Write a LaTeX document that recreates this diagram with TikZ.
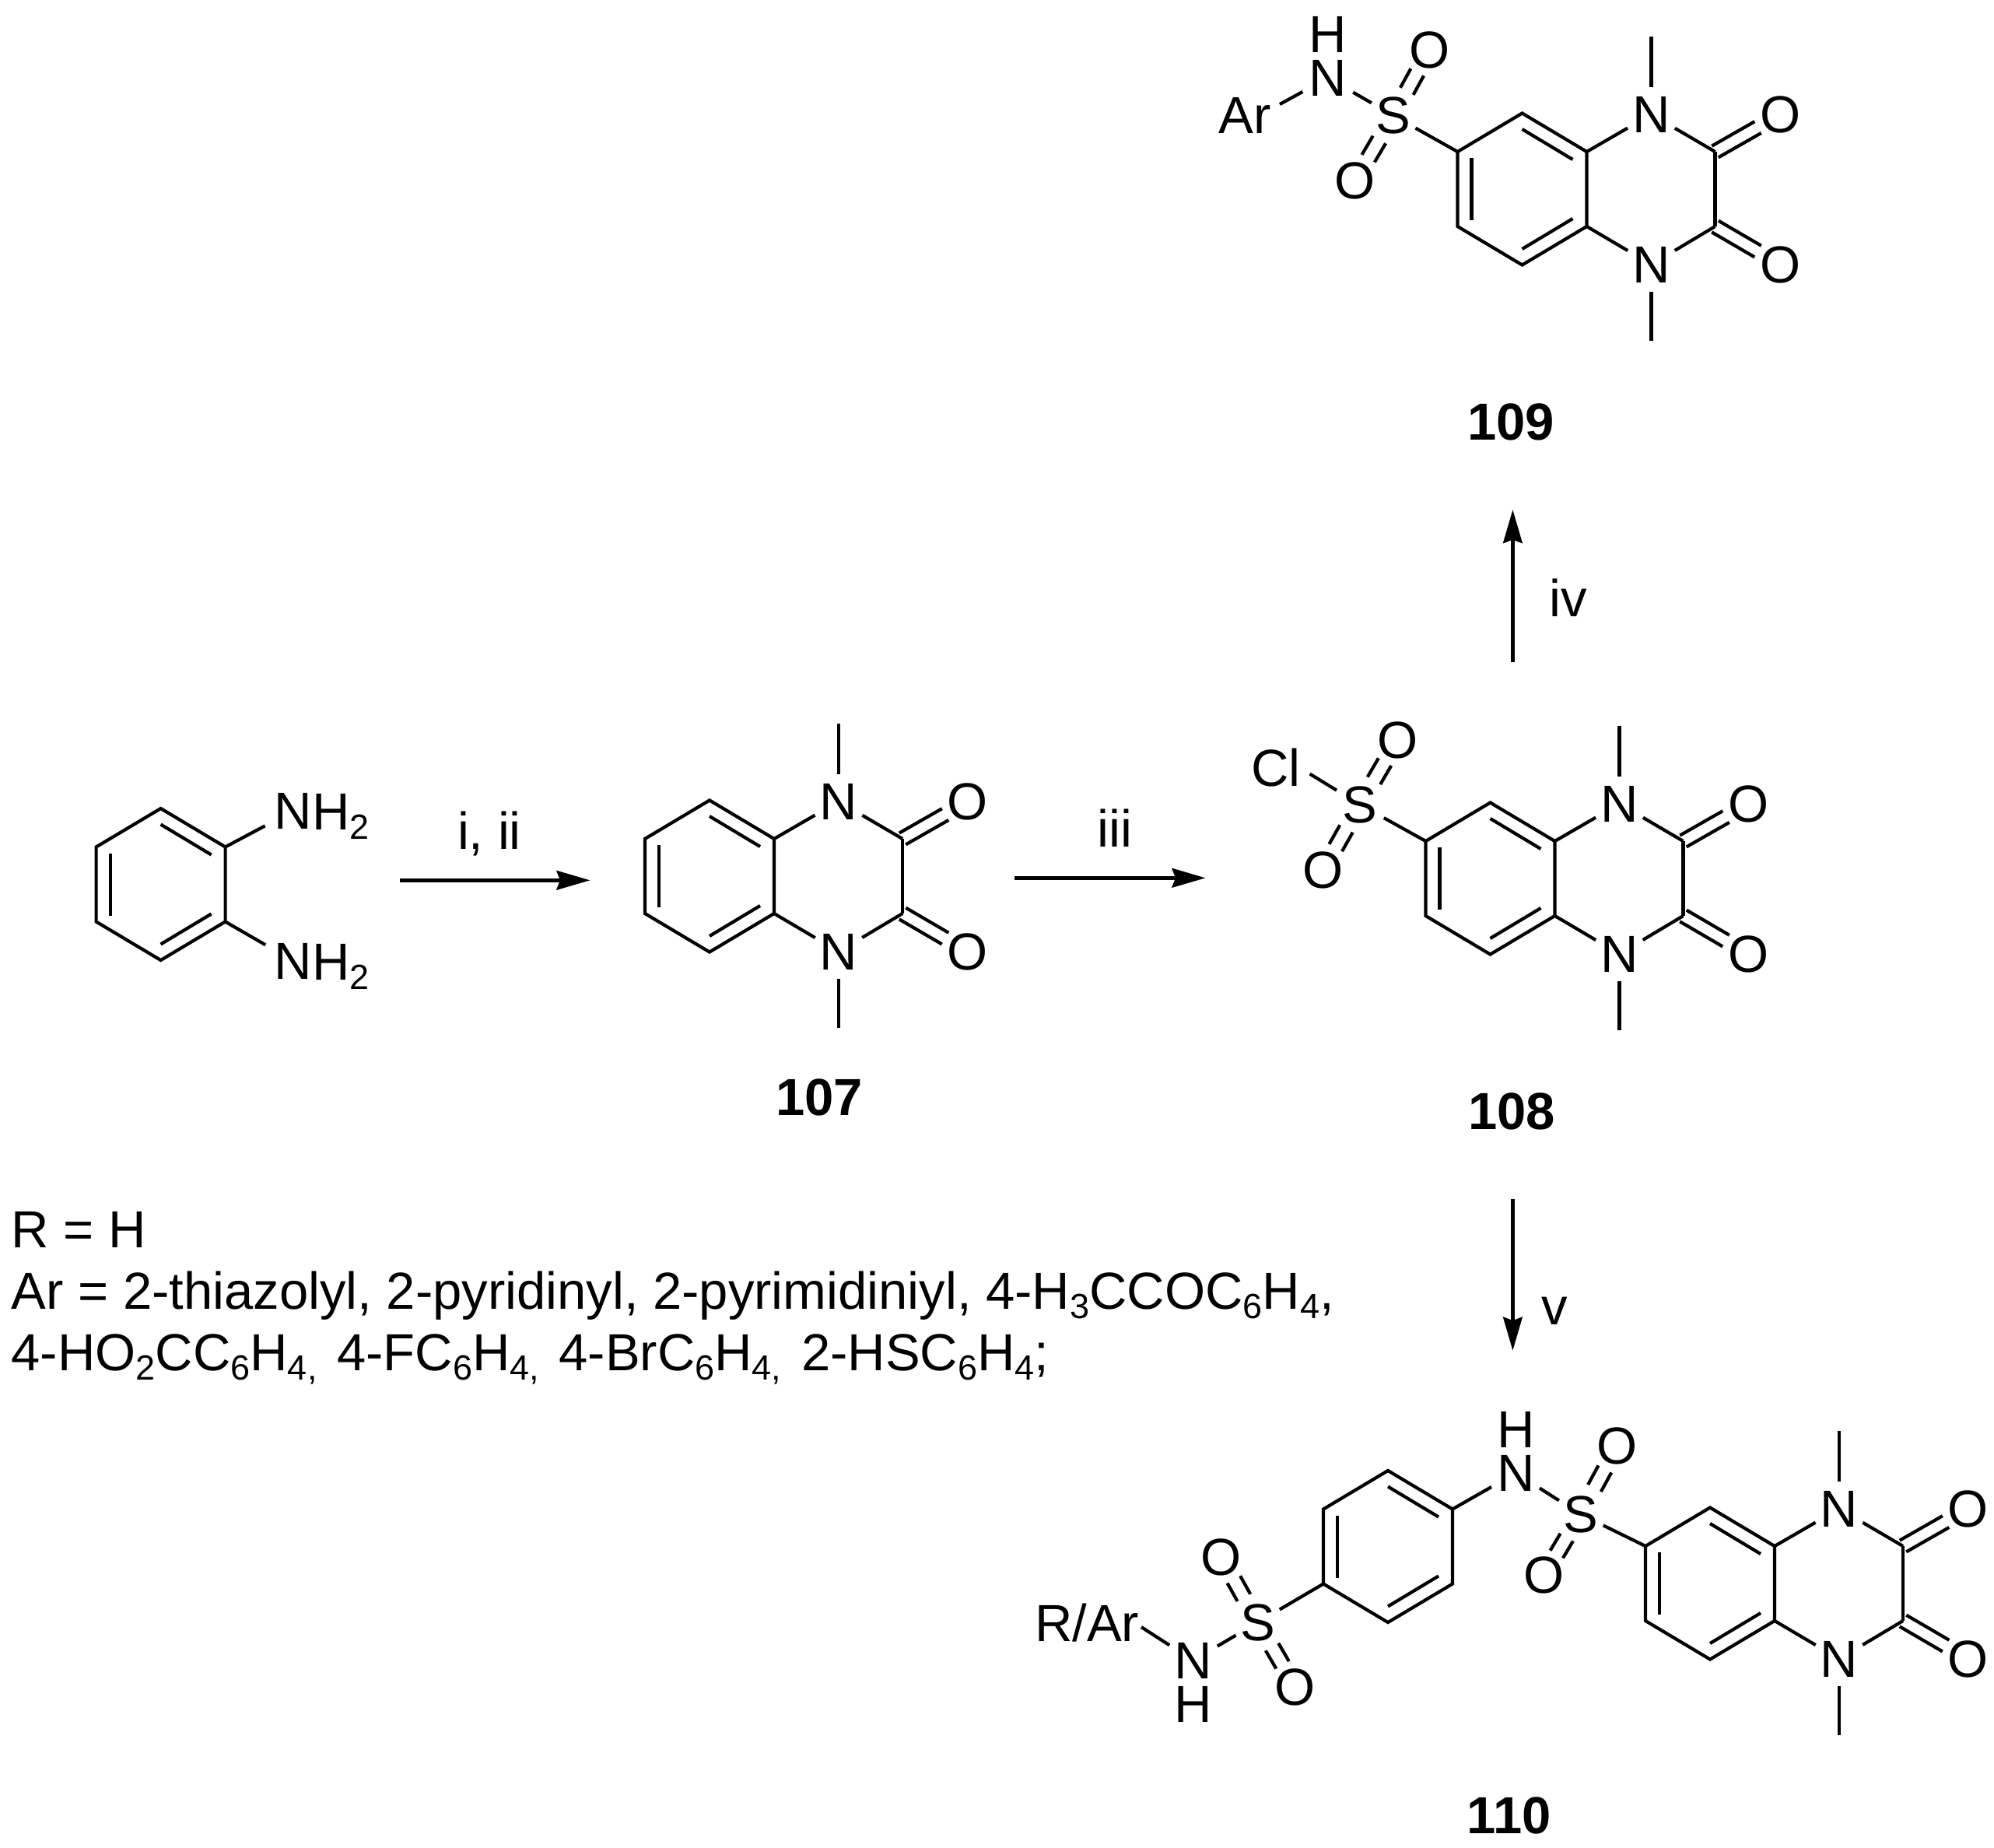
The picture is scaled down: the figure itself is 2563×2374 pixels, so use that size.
\documentclass[tikz,border=0pt]{standalone}
\usepackage{fontspec}
\setmainfont{Liberation Sans}
\usetikzlibrary{calc,arrows.meta}
\newcommand\atomfont{\fontsize{67}{70}\selectfont}
\newcommand\subs[1]{\raisebox{-12.5pt}{\fontsize{45}{45}\selectfont #1}}
\newcommand\subcomma{\subs{,}\hspace{7pt}}
\tikzset{
  bond/.style={line width=4.2pt,line cap=butt,line join=miter},
  atom/.style={circle,inner sep=0pt,minimum size=70pt,font=\atomfont},
  plain/.style={inner sep=0pt,font=\atomfont},
  txt/.style={inner sep=0pt,anchor=base west,font=\atomfont},
  cpd/.style={inner sep=0pt,font=\atomfont\bfseries},
  rxn/.style={line width=4.8pt,-{Stealth[length=43pt,width=24.5pt,inset=4.5pt]}}
}
% two parallel lines between a and b: {a}{b}{from}{to}{half spacing}
\newcommand\dbl[5]{%
  \draw[bond] ($(#1)!#3!(#2)!#5!90:(#2)$) -- ($(#1)!#4!(#2)!#5!90:(#2)$);
  \draw[bond] ($(#1)!#3!(#2)!-#5!90:(#2)$) -- ($(#1)!#4!(#2)!-#5!90:(#2)$);
}
% benzene ring
\newcommand\ring[3]{%
  \begin{scope}[shift={(#2,#3)}]
    \coordinate (#1-p1) at (0,-97.5);
    \coordinate (#1-p2) at (83,-48);
    \coordinate (#1-p3) at (83,48);
    \coordinate (#1-p4) at (0,97.5);
    \coordinate (#1-p5) at (-83,48);
    \coordinate (#1-p6) at (-83,-48);
    \coordinate (#1-i1) at (0,-77);
    \coordinate (#1-i2) at (65,-38);
    \coordinate (#1-i3) at (65,38);
    \coordinate (#1-i4) at (0,77);
    \coordinate (#1-i5) at (-65,40);
    \coordinate (#1-i6) at (-65,-40);
    \draw[bond] (#1-p1)--(#1-p2)--(#1-p3)--(#1-p4)--(#1-p5)--(#1-p6)--cycle;
    \draw[bond] (#1-i1)--(#1-i2);
    \draw[bond] (#1-i3)--(#1-i4);
    \draw[bond] (#1-i5)--(#1-i6);
  \end{scope}}
% 1,4-dimethylquinoxaline-2,3-dione core
\newcommand\core[3]{%
  \ring{#1}{#2}{#3}
  \begin{scope}[shift={(#2,#3)}]
    \node[atom] (#1-Na) at (166,-96) {N};
    \node[atom] (#1-Nb) at (166,97) {N};
    \node[atom] (#1-Oa) at (332,-96) {O};
    \node[atom] (#1-Ob) at (332,97) {O};
    \coordinate (#1-Ca) at (248,-48);
    \coordinate (#1-Cb) at (248,48);
    \coordinate (#1-Ma) at (166,-196);
    \coordinate (#1-Mb) at (166,195);
    \draw[bond] (#1-p2)--(#1-Na);
    \draw[bond] (#1-Na)--(#1-Ca);
    \draw[bond] (#1-Ca)--(#1-Cb);
    \draw[bond] (#1-Cb)--(#1-Nb);
    \draw[bond] (#1-Nb)--(#1-p3);
    \draw[bond] (#1-Na)--(#1-Ma);
    \draw[bond] (#1-Nb)--(#1-Mb);
    \dbl{#1-Ca}{#1-Oa}{0}{0.655}{8.5pt}
    \dbl{#1-Cb}{#1-Ob}{0}{0.655}{8.5pt}
  \end{scope}}
\begin{document}
\begin{tikzpicture}[x=1pt,y=-1pt]
\useasboundingbox (0,0) rectangle (2563,2374);
\fill[white] (0,0) rectangle (2563,2374);

% --- diamine
\ring{d}{206.6}{1136.5}
\node[atom,minimum size=82pt] (dn1) at (377,1042) {N};
\node[txt] (dh1) at (401,1066) {H\subs{2}};
\node[atom,minimum size=82pt] (dn2) at (377,1235) {N};
\node[txt] (dh2) at (401,1259) {H\subs{2}};
\draw[bond] (d-p2)--(dn1);
\draw[bond] (d-p3)--(dn2);

% --- 107
\core{a}{912}{1126}
\node[cpd] (l107) at (1053,1410) {107};

% --- 108
\core{b}{1915.5}{1129}
\node[atom] (bS) at (1748,1034) {S};
\node[plain] (bCl) at (1640,987) {Cl};
\coordinate (bClb) at (1683.6,994.6);
\node[atom] (bO1) at (1796.5,951) {O};
\node[atom] (bO2) at (1700.6,1118) {O};
\draw[bond] (bS)--(b-p6);
\draw[bond] (bS)--(bClb);
\dbl{bS}{bO1}{0.37}{0.66}{9.5pt}
\dbl{bS}{bO2}{0.37}{0.66}{9.5pt}
\node[cpd] (l108) at (1943,1428) {108};

% --- 109
\core{c}{1956.5}{243}
\node[atom,minimum size=62pt] (cS) at (1791,148.6) {S};
\node[atom,minimum size=74pt] (cN) at (1707,100) {N};
\node[plain] (cH) at (1707,44) {H};
\node[plain] (cAr) at (1600,148.6) {Ar};
\coordinate (cArb) at (1645,134);
\node[atom] (cO1) at (1837.5,64) {O};
\node[atom] (cO2) at (1742,232) {O};
\draw[bond] (cS)--(c-p6);
\draw[bond] (cS)--(cN);
\draw[bond] (cN)--(cArb);
\dbl{cS}{cO1}{0.37}{0.66}{9.5pt}
\dbl{cS}{cO2}{0.37}{0.66}{9.5pt}
\node[cpd] (l109) at (1942,542) {109};

% --- 110
\core{e}{2198}{2035}
\ring{f}{1784}{1987.5}
\node[atom,minimum size=62pt] (eS1) at (2031.4,1946) {S};
\node[atom,minimum size=72pt] (eN1) at (1948.4,1893) {N};
\node[plain] (eH1) at (1948.4,1837) {H};
\node[atom] (eO1) at (2079,1858) {O};
\node[atom] (eO2) at (1985,2024) {O};
\draw[bond] (eS1)--(e-p6);
\draw[bond] (eS1)--(eN1);
\draw[bond] (eN1)--(f-p2);
\dbl{eS1}{eO1}{0.38}{0.66}{9.5pt}
\dbl{eS1}{eO2}{0.38}{0.66}{9.5pt}
\node[atom,minimum size=62pt] (eS2) at (1616.6,2085) {S};
\node[atom,minimum size=72pt] (eN2) at (1533.6,2134) {N};
\node[plain] (eH2) at (1533.6,2190) {H};
\node[atom] (eO3) at (1570,2001.6) {O};
\node[atom] (eO4) at (1665,2168) {O};
\node[plain] (eRAr) at (1397,2086) {R/Ar};
\coordinate (eRArb) at (1467,2091);
\draw[bond] (eS2)--(f-p5);
\draw[bond] (eS2)--(eN2);
\draw[bond] (eN2)--(eRArb);
\dbl{eS2}{eO3}{0.38}{0.66}{9.5pt}
\dbl{eS2}{eO4}{0.38}{0.66}{9.5pt}
\node[cpd] (l110) at (1940,2333) {110};

% --- reaction arrows
\coordinate (r1s) at (514,1131.3); \coordinate (r1e) at (758.5,1131.3);
\coordinate (r2s) at (1304,1128.3); \coordinate (r2e) at (1549.5,1128.3);
\coordinate (r3s) at (1944.4,851); \coordinate (r3e) at (1944.4,655);
\coordinate (r4s) at (1944.4,1540.7); \coordinate (r4e) at (1944.4,1735.7);
\draw[rxn] (r1s)--(r1e);
\draw[rxn] (r2s)--(r2e);
\draw[rxn] (r3s)--(r3e);
\draw[rxn] (r4s)--(r4e);
\node[plain,anchor=base] (t1) at (629,1091) {i, ii};
\node[plain,anchor=base] (t2) at (1433,1088) {iii};
\node[plain,anchor=base] (t3) at (2016,792) {iv};
\node[plain,anchor=base] (t4) at (1998.7,1702) {v};

% --- text block
\node[txt] (b1) at (14.5,1603) {R = H};
\node[txt] (b2) at (14.5,1682) {Ar = 2-thiazolyl, 2-pyridinyl, 2-pyrimidiniyl, 4-H\subs{3}CCOC\subs{6}H\subs{4},};
\node[txt] (b3) at (14.5,1761) {4-HO\subs{2}CC\subs{6}H\subs{4}\subcomma{} 4-FC\subs{6}H\subs{4}\subcomma{} 4-BrC\subs{6}H\subs{4}\subcomma{} 2-HSC\subs{6}H\subs{4};};
\end{tikzpicture}
\end{document}
